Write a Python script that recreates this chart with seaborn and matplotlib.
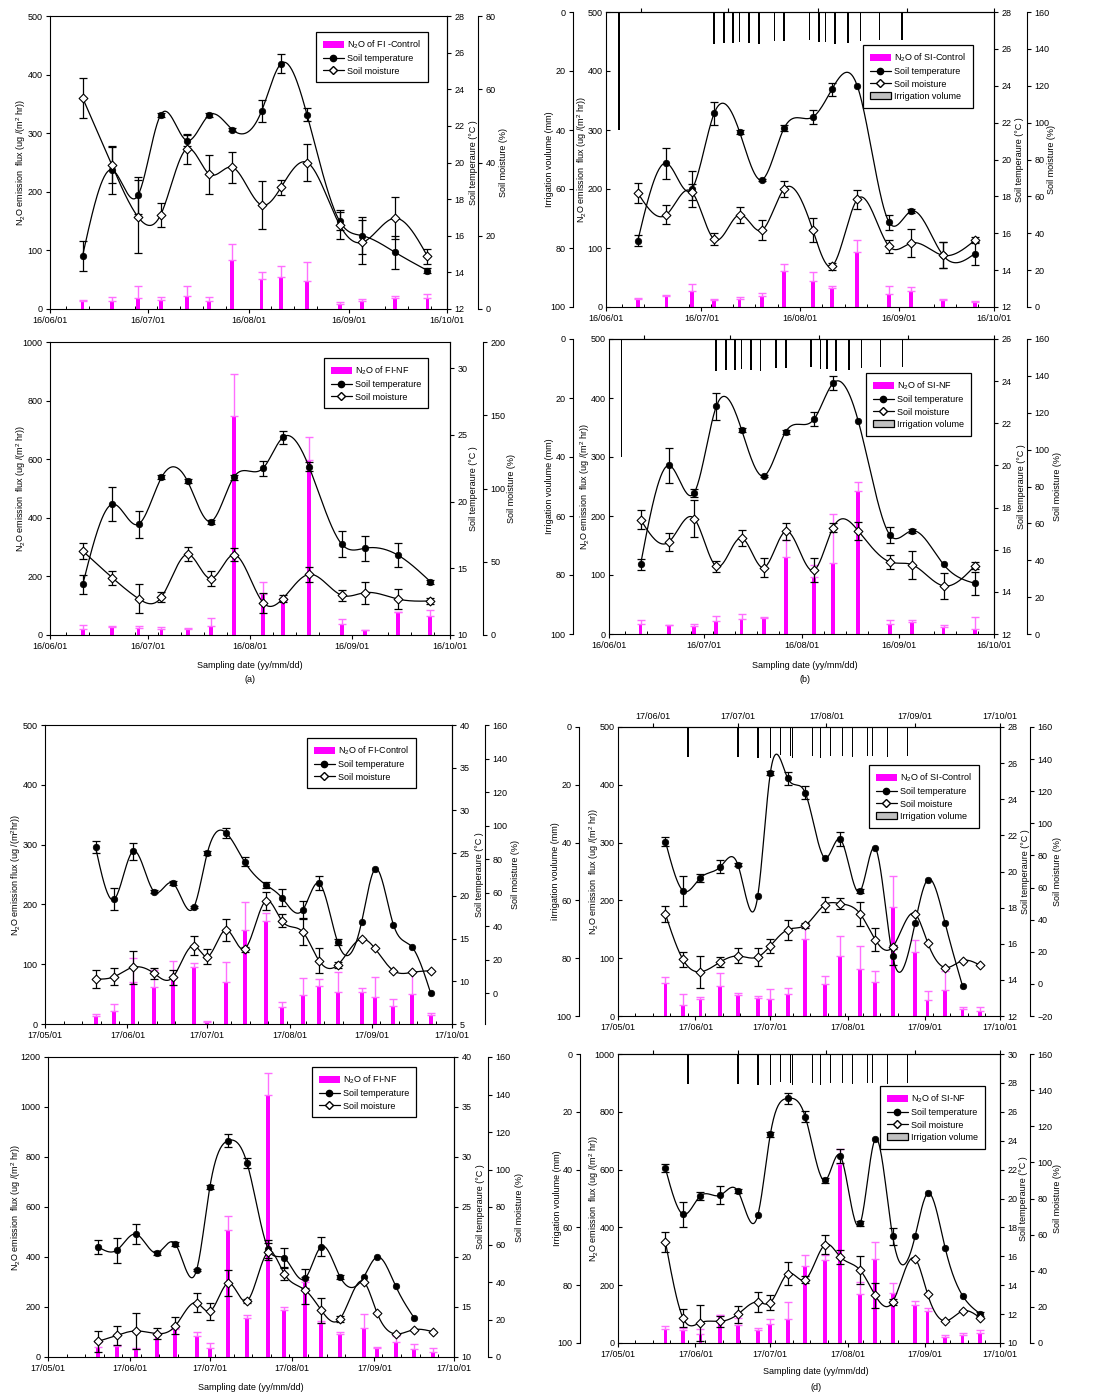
"""Soil N2O flux with soil temperature, moisture and irrigation, 2016/2017 (FI / SI)."""

import numpy as np
import pandas as pd

import matplotlib
matplotlib.use("Agg")
import matplotlib.pyplot as plt
import matplotlib.dates as mdates
import matplotlib.patches as mpatches
from matplotlib.lines import Line2D
import seaborn as sns

# ---------------------------------------------------------------- data
DATES_2016 = ["2016-06-11", "2016-06-20", "2016-06-28", "2016-07-05", "2016-07-13",
              "2016-07-20", "2016-07-27", "2016-08-05", "2016-08-11", "2016-08-19",
              "2016-08-29", "2016-09-05", "2016-09-15", "2016-09-25"]
DATES_2017 = ["2017-05-20", "2017-05-27", "2017-06-03", "2017-06-11", "2017-06-18",
              "2017-06-26", "2017-07-01", "2017-07-08", "2017-07-15", "2017-07-23",
              "2017-07-29", "2017-08-06", "2017-08-12", "2017-08-19", "2017-08-28",
              "2017-09-02", "2017-09-09", "2017-09-16", "2017-09-23"]

IRR_DATES_2016 = ["2016-06-05", "2016-07-05", "2016-07-08", "2016-07-11", "2016-07-13",
                  "2016-07-16", "2016-07-19", "2016-07-24", "2016-07-27", "2016-08-04",
                  "2016-08-07", "2016-08-09", "2016-08-12", "2016-08-16", "2016-08-20",
                  "2016-08-26", "2016-09-02"]
IRR_MM_2016 = [40, 10.7, 10.5, 10.5, 10.2, 10.4, 10.7, 9.8, 9.9, 9.6, 10.2, 10.2, 10.7,
               10.5, 9.9, 9.6, 9.4]
IRR_DATES_2017 = ["2017-05-29", "2017-06-18", "2017-06-26", "2017-07-01", "2017-07-05",
                  "2017-07-09", "2017-07-10", "2017-07-18", "2017-07-21", "2017-07-25",
                  "2017-07-30", "2017-08-03", "2017-08-09", "2017-08-11", "2017-08-17",
                  "2017-08-25"]
IRR_MM_2017 = [10.4, 10.4, 10.7, 10.7, 9.8, 10.2, 10.7, 10.0, 10.6, 10.2, 10.2, 10.4,
               10.2, 10.2, 10.4, 10.0]

# (a) FI 2016, control
FI16_CTRL_FLUX = [14, 14, 19, 16, 22, 14, 84, 52, 54, 47, 9, 14, 18, 18]
FI16_CTRL_FLUX_ERR = [2, 6, 21, 4, 17, 6, 27, 11, 19, 34, 3, 3, 5, 7]
FI16_CTRL_TEMP = [14.9, 19.6, 18.2, 22.6, 21.2, 22.6, 21.8, 22.8, 25.4, 22.6, 16.8, 16.0, 15.1, 14.1]
FI16_CTRL_TEMP_ERR = [0.8, 1.3, 1.0, 0.1, 0.3, 0.1, 0.1, 0.6, 0.5, 0.35, 0.5, 1.0, 0.9, 0.12]
FI16_CTRL_MOIST = [57.7, 39.3, 25.2, 25.7, 43.7, 36.8, 38.7, 28.4, 33.2, 40.0, 23.0, 18.2, 24.8, 14.4]
FI16_CTRL_MOIST_ERR = [5.5, 5, 10, 3.3, 4, 5.3, 4.3, 6.5, 2, 5, 4, 6, 5.7, 2]

# (a) FI 2016, no fertiliser
FI16_NF_FLUX = [19, 27, 24, 19, 22, 31, 746, 140, 115, 598, 36, 16, 77, 66]
FI16_NF_FLUX_ERR = [15, 3, 7, 9, 2, 28, 146, 40, 10, 77, 20, 1, 3, 18]
FI16_NF_TEMP = [13.8, 19.8, 18.3, 21.8, 21.5, 18.5, 21.8, 22.5, 24.8, 22.6, 16.8, 16.5, 16.0, 14.0]
FI16_NF_TEMP_ERR = [0.7, 1.25, 1.0, 0.15, 0.15, 0.15, 0.2, 0.57, 0.47, 0.35, 0.97, 0.95, 0.92, 0.15]
FI16_NF_MOIST = [57.3, 39.1, 24.8, 25.9, 55.1, 38.5, 54.8, 22.1, 24.8, 41.4, 27.1, 28.9, 24.6, 23.2]
FI16_NF_MOIST_ERR = [5.6, 4.9, 10, 3.2, 4.7, 5.2, 4.5, 6.8, 2.3, 5.2, 3.9, 7.6, 7, 2.3]

# (b) SI 2016, control
SI16_CTRL_FLUX = [13, 18.6, 27, 11.3, 13, 18, 61, 43.5, 32, 94, 22.6, 27, 11.3, 8.5]
SI16_CTRL_FLUX_ERR = [2.5, 2.5, 12, 3, 4, 6, 12, 15, 4, 19, 13, 7, 3, 1]
SI16_CTRL_TEMP = [15.6, 19.8, 18.4, 22.5, 21.5, 18.9, 21.7, 22.3, 23.8, 24.0, 16.6, 17.2, 14.8, 14.9]
SI16_CTRL_TEMP_ERR = [0.3, 0.85, 1.0, 0.63, 0.1, 0.05, 0.15, 0.36, 0.36, 0, 0.4, 0.1, 0.7, 0.6]
SI16_CTRL_MOIST = [61.8, 50.1, 62.4, 36.7, 50.1, 41.6, 64.0, 41.9, 22.1, 58.4, 32.9, 34.7, 28.0, 36.2]
SI16_CTRL_MOIST_ERR = [5.5, 5, 4.5, 3.2, 4.3, 5.4, 4.2, 6.4, 2, 5.2, 3.7, 7.5, 7, 1.7]

# (b) SI 2016, no fertiliser
SI16_NF_FLUX = [17.5, 14.7, 13.6, 21.5, 26, 27.7, 130.6, 96.7, 121, 242, 17.5, 20.4, 11.9, 8]
SI16_NF_FLUX_ERR = [6, 1, 4, 9, 8.5, 1.5, 29, 20, 83, 15, 5.5, 3, 3, 21]
SI16_NF_TEMP = [15.3, 20.0, 18.7, 22.8, 21.7, 19.5, 21.6, 22.2, 23.9, 22.1, 16.7, 16.9, 15.3, 14.4]
SI16_NF_TEMP_ERR = [0.25, 0.85, 0.2, 0.63, 0.1, 0.05, 0.1, 0.34, 0.33, 0, 0.4, 0.1, 0, 0.55]
SI16_NF_MOIST = [62.1, 50.0, 62.6, 36.7, 52.1, 36.0, 55.7, 34.6, 57.7, 55.9, 39.1, 37.6, 26.1, 37.1]
SI16_NF_MOIST_ERR = [5.4, 5, 10, 3, 4.4, 5.2, 4.5, 6.5, 2.3, 5.1, 3.6, 7.6, 7, 1.8]

# (c) FI 2017, control
FI17_CTRL_FLUX = [13.4, 21.7, 70.8, 62.4, 77.5, 94.8, 2.8, 70.8, 157, 173, 29, 48.5, 64, 54,
                  54, 44.6, 30, 49.6, 15]
FI17_CTRL_FLUX_ERR = [3.3, 11, 39, 28, 28, 6.7, 2.8, 33, 47, 12, 8, 28, 12, 33, 6, 34, 11, 38, 4]
FI17_CTRL_TEMP = [25.7, 19.6, 25.2, 20.5, 21.5, 18.7, 25.0, 27.4, 24.0, 21.3, 19.8, 18.4, 21.5,
                  14.6, 16.9, 23.1, 16.6, 14.0, 8.6]
FI17_CTRL_TEMP_ERR = [0.7, 1.3, 1.0, 0.2, 0.2, 0.15, 0.2, 0.6, 0.5, 0.35, 1.0, 1.0, 0.85, 0.3,
                      0, 0, 0, 0, 0]
FI17_CTRL_MOIST = [8.5, 9.9, 15.5, 11.9, 9.5, 28.4, 21.9, 37.8, 26.4, 55.1, 43.3, 36.4, 19.5,
                   16.9, 32.4, 26.8, 13.5, 12.5, 13.5]
FI17_CTRL_MOIST_ERR = [5.3, 5, 10, 3.2, 4.5, 5.7, 4.4, 6.8, 1.5, 5.3, 3.7, 7.8, 7.3, 1.8,
                       0, 0, 0, 0, 0]

# (c) FI 2017, no fertiliser
FI17_NF_FLUX = [40, 44, 33, 94, 114, 83, 37, 508, 158, 1050, 187, 300, 136, 94, 118, 37, 60, 31, 20]
FI17_NF_FLUX_ERR = [20, 5, 2, 3, 2, 16, 20, 56, 12, 87, 13, 10, 10, 8, 56, 5, 23, 20, 17]
FI17_NF_TEMP = [21.0, 20.7, 22.3, 20.4, 21.3, 18.7, 27.0, 31.65, 29.4, 20.8, 19.9, 17.9, 21.05,
                18.05, 18.0, 20.0, 17.1, 13.9]
FI17_NF_TEMP_ERR = [0.7, 1.25, 1.0, 0.2, 0.2, 0.12, 0.17, 0.62, 0.47, 0.93, 0.97, 0.95, 0.93,
                    0.2, 0, 0, 0, 0]
FI17_NF_MOIST = [8.4, 11.6, 13.9, 12.5, 16.6, 28.9, 24.4, 39.4, 29.9, 56.1, 44.5, 35.6, 24.9,
                 20.3, 40.1, 23.5, 12.3, 14.6, 13.5]
FI17_NF_MOIST_ERR = [5.5, 5, 9.6, 3, 4.5, 5, 4.5, 6.9, 1.2, 4.5, 3.6, 7.1, 6.8, 1.4, 0, 0, 0, 0, 0]

# (d) SI 2017, control
SI17_CTRL_FLUX = [57.7, 18.5, 30, 51.3, 37, 31, 29, 38.6, 134, 55, 103, 82, 59, 189, 111, 27,
                  45.6, 11.5, 8.7]
SI17_CTRL_FLUX_ERR = [10, 20, 3, 23, 3, 3, 17, 10, 20, 14, 35, 39, 19, 54, 20, 17, 32, 4, 7]
SI17_CTRL_TEMP = [21.66, 18.94, 19.65, 20.26, 20.38, 18.66, 25.44, 25.15, 24.35, 20.74, 21.79,
                  18.91, 21.31, 15.30, 17.15, 19.55, 17.15, 13.66]
SI17_CTRL_TEMP_ERR = [0.26, 0.83, 0.23, 0.35, 0.08, 0, 0.1, 0.37, 0.36, 0, 0.4, 0.1, 0, 0.5,
                      0, 0, 0, 0]
SI17_CTRL_MOIST = [43.4, 15.2, 7.5, 13.7, 17.4, 16.8, 23.7, 33.8, 36.5, 49.4, 50.0, 43.6, 27.6,
                   23.0, 43.6, 25.7, 10.2, 14.5, 11.6]
SI17_CTRL_MOIST_ERR = [5.1, 4.9, 10, 3.3, 4.7, 5.6, 4.3, 6.2, 1.7, 4.9, 3.6, 7.7, 7, 1.5,
                       0, 0, 0, 0, 0]

# (d) SI 2017, no fertiliser
SI17_NF_FLUX = [49.7, 46, 32, 96, 61, 46, 67, 84, 267, 286, 621, 169, 290, 173, 133, 111, 21, 29, 35]
SI17_NF_FLUX_ERR = [9, 7, 17, 2, 27, 7, 17, 58, 39, 17, 52, 42, 60, 36, 13, 11, 6, 7, 9]
SI17_NF_TEMP = [22.08, 18.91, 20.18, 20.23, 20.51, 18.85, 24.43, 26.93, 25.66, 21.25, 22.96,
                18.27, 24.09, 17.39, 17.39, 20.35, 16.6, 13.28, 12.03]
SI17_NF_TEMP_ERR = [0.28, 0.87, 0.29, 0.63, 0.12, 0, 0.15, 0.37, 0.38, 0.15, 0.48, 0.15, 0,
                    0.58, 0, 0, 0, 0, 0.14]
SI17_NF_MOIST = [56.0, 14.0, 11.3, 12.0, 15.9, 22.7, 22.4, 38.4, 35.1, 54.5, 47.7, 40.3, 26.4,
                 22.7, 46.7, 27.0, 12.2, 17.7, 13.9]
SI17_NF_MOIST_ERR = [5.5, 5, 10, 3.2, 4.6, 5.5, 4.4, 6.5, 1.8, 5.1, 3.9, 7.8, 7, 1.8,
                     0, 0, 0, 0, 0]

SERIES = {
    "a1": (DATES_2016, FI16_CTRL_FLUX, FI16_CTRL_FLUX_ERR, FI16_CTRL_TEMP, FI16_CTRL_TEMP_ERR,
           FI16_CTRL_MOIST, FI16_CTRL_MOIST_ERR),
    "a2": (DATES_2016, FI16_NF_FLUX, FI16_NF_FLUX_ERR, FI16_NF_TEMP, FI16_NF_TEMP_ERR,
           FI16_NF_MOIST, FI16_NF_MOIST_ERR),
    "b1": (DATES_2016, SI16_CTRL_FLUX, SI16_CTRL_FLUX_ERR, SI16_CTRL_TEMP, SI16_CTRL_TEMP_ERR,
           SI16_CTRL_MOIST, SI16_CTRL_MOIST_ERR),
    "b2": (DATES_2016, SI16_NF_FLUX, SI16_NF_FLUX_ERR, SI16_NF_TEMP, SI16_NF_TEMP_ERR,
           SI16_NF_MOIST, SI16_NF_MOIST_ERR),
    "c1": (DATES_2017, FI17_CTRL_FLUX, FI17_CTRL_FLUX_ERR, FI17_CTRL_TEMP, FI17_CTRL_TEMP_ERR,
           FI17_CTRL_MOIST, FI17_CTRL_MOIST_ERR),
    "c2": (DATES_2017, FI17_NF_FLUX, FI17_NF_FLUX_ERR, FI17_NF_TEMP, FI17_NF_TEMP_ERR,
           FI17_NF_MOIST, FI17_NF_MOIST_ERR),
    "d1": (DATES_2017, SI17_CTRL_FLUX, SI17_CTRL_FLUX_ERR, SI17_CTRL_TEMP, SI17_CTRL_TEMP_ERR,
           SI17_CTRL_MOIST, SI17_CTRL_MOIST_ERR),
    "d2": (DATES_2017, SI17_NF_FLUX, SI17_NF_FLUX_ERR, SI17_NF_TEMP, SI17_NF_TEMP_ERR,
           SI17_NF_MOIST, SI17_NF_MOIST_ERR),
}
IRRIGATION = {2016: (IRR_DATES_2016, IRR_MM_2016), 2017: (IRR_DATES_2017, IRR_MM_2017)}

# ---------------------------------------------------------------- layout (pixels)
W, H = 1097, 1393
FLUX_LBL = "N$_\\mathregular{2}$O emission  flux (ug /(m$^\\mathregular{2}$ hr))"
PANELS = [
    dict(key="a1", year=2016, box=(50, 16, 447, 309), flux=(500, 100), temp=(12, 28, 2),
         moist=(0, 80, 0, 80, 20), m_off=31, leg=(316, 32), name="FI -Control",
         lx=dict(flux=21, temp=473, moist=504)),
    dict(key="a2", year=2016, box=(50, 342, 450, 635), flux=(1000, 200), temp=(10, 31.95, 5),
         moist=(0, 200, 0, 200, 50), m_off=33, leg=(324, 358), name="FI-NF",
         lx=dict(flux=21, temp=474, moist=511), xlabel=(250, 666), tag=("(a)", 680)),
    dict(key="b1", year=2016, box=(606, 12, 994, 307), flux=(500, 100), temp=(12, 28, 2),
         moist=(0, 160, 0, 160, 20), m_off=33, leg=(863, 45), name="SI-Control",
         irr_off=33, lx=dict(irr=549, flux=582, temp=1019, moist=1052),
         irr_label="Irrigation voulume (mm)"),
    dict(key="b2", year=2016, box=(609, 339, 994, 634), flux=(500, 100), temp=(12, 26, 2),
         moist=(0, 160, 0, 160, 20), m_off=33, leg=(866, 373), name="SI-NF",
         irr_off=36, lx=dict(irr=550, flux=585, temp=1021, moist=1058),
         irr_label="Irrigation voulume (mm)", xlabel=(805, 666), tag=("(b)", 680)),
    dict(key="c1", year=2017, box=(45, 725, 452, 1024), flux=(500, 100), temp=(5, 40, 5),
         moist=(-18.3, 160, 0, 160, 20), m_off=33, leg=(307, 738), name="FI-Control",
         lx=dict(flux=16, temp=480, moist=516)),
    dict(key="c2", year=2017, box=(48, 1057, 454, 1357), flux=(1200, 200), temp=(10, 40, 5),
         moist=(0, 160, 0, 160, 20), m_off=34, leg=(312, 1067), name="FI-NF",
         lx=dict(flux=16, temp=481, moist=519), xlabel=(251, 1388)),
    dict(key="d1", year=2017, box=(618, 727, 1000, 1016), flux=(500, 100), temp=(12, 28, 2),
         moist=(-20, 160, -20, 160, 20), m_off=30, leg=(869, 765), name="SI-Control",
         irr_off=39, lx=dict(irr=556, flux=594, temp=1025, moist=1058), top_labels=True,
         irr_label="iIrrigation voulume (mm)"),
    dict(key="d2", year=2017, box=(618, 1054, 1000, 1343), flux=(1000, 200), temp=(10, 30, 2),
         moist=(0, 160, 0, 160, 20), m_off=30, leg=(880, 1086), name="SI-NF",
         irr_off=38, lx=dict(irr=557, flux=594, temp=1023, moist=1058),
         irr_label="Irrigation voulume (mm)", xlabel=(816, 1372), tag=("(d)", 1387)),
]

MAGENTA = "#ff00ff"
MAGENTA_ERR = "#ff6eff"


def dnum(seq):
    return mdates.date2num(pd.to_datetime(list(seq)))


def natural_spline(x, y, n=400):
    """Smooth drawing curve through the measured points (natural cubic spline)."""
    x = np.asarray(x, float)
    y = np.asarray(y, float)
    k = len(x)
    h = np.diff(x)
    A = np.zeros((k, k))
    rhs = np.zeros(k)
    A[0, 0] = A[-1, -1] = 1.0
    for i in range(1, k - 1):
        A[i, i - 1] = h[i - 1]
        A[i, i] = 2 * (h[i - 1] + h[i])
        A[i, i + 1] = h[i]
        rhs[i] = 3 * ((y[i + 1] - y[i]) / h[i] - (y[i] - y[i - 1]) / h[i - 1])
    c = np.linalg.solve(A, rhs)
    b = np.diff(y) / h - h * (2 * c[:-1] + c[1:]) / 3
    d = np.diff(c) / (3 * h)
    xs = np.linspace(x[0], x[-1], n)
    i = np.clip(np.searchsorted(x, xs, side="right") - 1, 0, k - 2)
    dx = xs - x[i]
    return xs, y[i] + b[i] * dx + c[i] * dx ** 2 + d[i] * dx ** 3


def fx(px):
    return px / W


def fy(py):
    return 1 - py / H


def hide_spines(ax, keep):
    for side, sp in ax.spines.items():
        sp.set_visible(side in keep)


def draw_series(ax, x, y, err, marker):
    x = np.asarray(x)
    y = np.asarray(y, float)
    err = np.asarray(err, float)
    m = err > 0
    ax.errorbar(x[m], y[m], yerr=err[m], fmt="none", ecolor="black",
                elinewidth=0.9, capsize=3, capthick=0.9, zorder=2)
    xs, ys = natural_spline(x, y)
    sns.lineplot(x=xs, y=ys, ax=ax, color="black", linewidth=0.9, zorder=3)
    if marker == "o":
        sns.scatterplot(x=x, y=y, ax=ax, marker="o", s=22, color="black",
                        edgecolor="black", linewidth=0.5, zorder=4)
    else:
        sns.scatterplot(x=x, y=y, ax=ax, marker="D", s=20, color="white",
                        edgecolor="black", linewidth=0.8, zorder=4)
    ax.set_xlabel("")
    ax.set_ylabel("")


def draw_panel(fig, cfg):
    dates, flux, flux_err, temp, temp_err, moist, moist_err = SERIES[cfg["key"]]
    year = cfg["year"]
    l, t, r, b = cfg["box"]
    wpx = r - l
    has_irr = "irr_off" in cfg

    ax = fig.add_axes([fx(l), fy(b), fx(r - l), (b - t) / H])
    x = dnum(dates)
    bar_w = 1.2 if year == 2016 else 1.5

    # N2O flux bars with one-sided error bars
    ax.bar(x, flux, width=bar_w, color=MAGENTA, linewidth=0, zorder=2)
    ax.errorbar(x, flux, yerr=[np.zeros(len(flux_err)), flux_err], fmt="none",
                ecolor=MAGENTA_ERR, elinewidth=1.0, capsize=3, capthick=1.0, zorder=2)

    # soil temperature (right axis)
    ax_t = ax.twinx()
    hide_spines(ax_t, ["right"])
    draw_series(ax_t, x[:len(temp)], temp, temp_err, "o")

    # soil moisture (offset right axis)
    ax_m = ax.twinx()
    hide_spines(ax_m, ["right"])
    ax_m.spines["right"].set_position(("axes", 1 + cfg["m_off"] / wpx))
    draw_series(ax_m, x[:len(moist)], moist, moist_err, "D")

    # irrigation (offset left axis, inverted) and top date axis
    if has_irr:
        ax_i = ax.twinx()
        hide_spines(ax_i, ["left"])
        ax_i.spines["left"].set_position(("axes", -cfg["irr_off"] / wpx))
        ax_i.yaxis.tick_left()
        irr_dates, irr_mm = IRRIGATION[year]
        ax_i.bar(dnum(irr_dates), irr_mm, width=0.55, color="black", linewidth=0)
        ax_i.set_ylim(100, 0)
        ax_i.set_yticks(np.arange(0, 101, 20))
        ax_i.tick_params(axis="y", pad=2.5)

        ax_top = ax.twiny()
        hide_spines(ax_top, ["top"])
        start = pd.Timestamp(f"{year}-06-01") - pd.Timedelta(days=12.2)
        ax_top.set_xlim(mdates.date2num(start), dnum([f"{year}-10-01"])[0])
        ax_top.xaxis.set_major_locator(mdates.MonthLocator())
        if cfg.get("top_labels"):
            ax_top.xaxis.set_major_formatter(mdates.DateFormatter("%y/%m/%d"))
            ax_top.tick_params(axis="x", pad=1.5)
        else:
            ax_top.xaxis.set_major_formatter(plt.NullFormatter())
        ax.tick_params(axis="y", direction="in", pad=2.5)

    # axes limits and ticks
    x0 = f"{year}-06-01" if year == 2016 else f"{year}-05-01"
    ax.set_xlim(dnum([x0, f"{year}-10-01"]))
    ax.xaxis.set_major_locator(mdates.MonthLocator())
    ax.xaxis.set_major_formatter(mdates.DateFormatter("%y/%m/%d"))
    ax.xaxis.set_minor_locator(mdates.WeekdayLocator(byweekday=mdates.MO))
    ax.tick_params(axis="x", which="minor", direction="in", length=2.5, width=0.7,
                   top=False)
    fmax, fstep = cfg["flux"]
    ax.set_ylim(0, fmax)
    ax.set_yticks(np.arange(0, fmax + 1, fstep))

    t0, t1, tstep = cfg["temp"]
    ax_t.set_ylim(t0, t1)
    ax_t.set_yticks(np.arange(t0, int(t1) + 0.01, tstep))

    m0, m1, mt0, mt1, mstep = cfg["moist"]
    ax_m.set_ylim(m0, m1)
    ax_m.set_yticks(np.arange(mt0, mt1 + 0.01, mstep))
    for a in (ax_t, ax_m):
        a.tick_params(axis="y", pad=2.5)

    # axis titles
    yc = fy((t + b) / 2)
    lx = cfg["lx"]
    flux_text = FLUX_LBL if cfg["key"] != "c1" else \
        "N$_\\mathregular{2}$O emission flux (ug /(m$^\\mathregular{2}$hr))"
    fig.text(fx(lx["flux"]), yc, flux_text, rotation=90, ha="center", va="center")
    fig.text(fx(lx["temp"]), yc, "Soil temperaure (\u00b0C )", rotation=90,
             ha="center", va="center")
    fig.text(fx(lx["moist"]), yc, "Soil moisture (%)", rotation=90,
             ha="center", va="center")
    if has_irr:
        fig.text(fx(lx["irr"]), yc, cfg["irr_label"], rotation=90,
                 ha="center", va="center")
    if "xlabel" in cfg:
        xl, yl = cfg["xlabel"]
        fig.text(fx(xl), fy(yl), "Sampling date (yy/mm/dd)", ha="center", va="center")
    if "tag" in cfg:
        tag, yt = cfg["tag"]
        fig.text(fx(cfg["xlabel"][0]), fy(yt), tag, ha="center", va="center")

    # legend
    handles = [
        mpatches.Patch(facecolor=MAGENTA, edgecolor="none"),
        Line2D([0], [0], color="black", lw=0.9, marker="o", markersize=4.5,
               markerfacecolor="black", markeredgecolor="black"),
        Line2D([0], [0], color="black", lw=0.9, marker="D", markersize=4.2,
               markerfacecolor="white", markeredgecolor="black"),
    ]
    labels = ["N$_\\mathregular{2}$O of " + cfg["name"], "Soil temperature", "Soil moisture"]
    if has_irr:
        handles.append(mpatches.Patch(facecolor="#c0c0c0", edgecolor="black", linewidth=0.9))
        labels.append("Irrigation volume")
    lxp, lyp = cfg["leg"]
    leg = fig.legend(handles, labels, loc="upper left", bbox_to_anchor=(fx(lxp), fy(lyp)),
                     borderaxespad=0, frameon=True, fancybox=False, framealpha=1,
                     edgecolor="black", borderpad=0.75, handlelength=2.3,
                     handletextpad=0.4, labelspacing=0.35, fontsize=6.5)
    leg.get_frame().set_linewidth(0.9)


sns.set_style("ticks")
plt.rcParams.update({
    "font.family": ["Liberation Sans", "DejaVu Sans"],
    "mathtext.fontset": "custom",
    "mathtext.rm": "Liberation Sans",
    "mathtext.it": "Liberation Sans:italic",
    "mathtext.bf": "Liberation Sans:bold",
    "font.size": 6.5,
    "axes.edgecolor": "black",
    "axes.linewidth": 0.8,
    "text.color": "black",
    "axes.labelcolor": "black",
    "xtick.color": "black",
    "ytick.color": "black",
    "xtick.labelsize": 6.5,
    "ytick.labelsize": 6.5,
    "xtick.major.size": 3,
    "ytick.major.size": 3,
    "xtick.major.width": 0.8,
    "ytick.major.width": 0.8,
    "xtick.major.pad": 2,
    "ytick.major.pad": 2.5,
    "xtick.direction": "out",
    "ytick.direction": "out",
})

fig = plt.figure(figsize=(W / 100, H / 100), dpi=100)
for cfg in PANELS:
    draw_panel(fig, cfg)

fig.savefig("out.png", dpi=100)
plt.close(fig)
